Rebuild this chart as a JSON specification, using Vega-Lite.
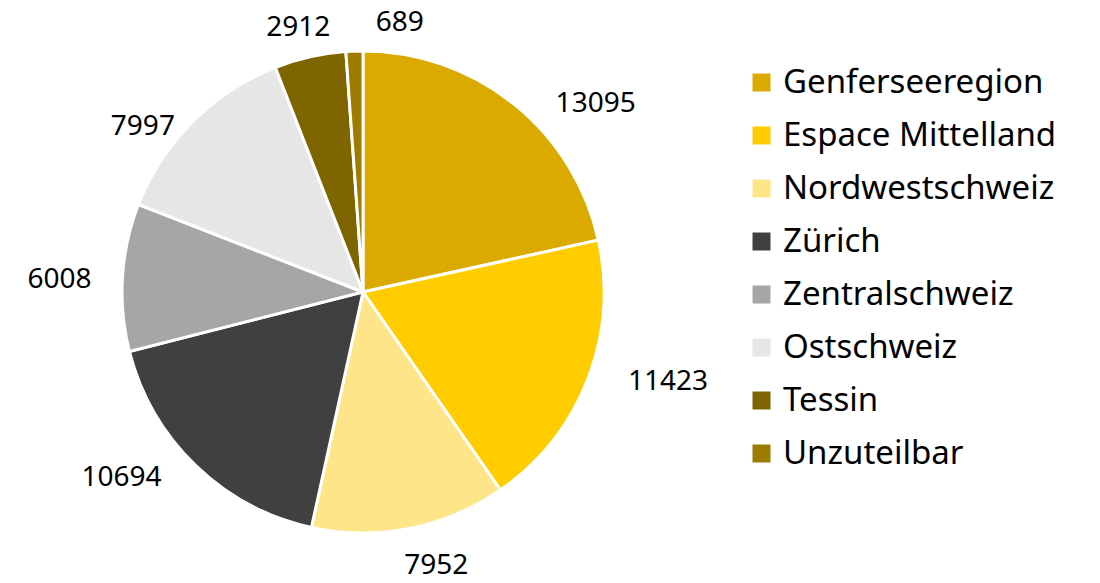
{
  "$schema": "https://vega.github.io/schema/vega-lite/v6.json",
  "width": 726,
  "height": 584,
  "padding": {"left": 0, "top": 0, "right": 374, "bottom": 0},
  "autosize": {"type": "none"},
  "background": "white",
  "config": {"view": {"stroke": null}, "font": "Noto Sans"},
  "data": {"values": [
    {"region": "Genferseeregion", "value": 13095, "idx": 1},
    {"region": "Espace Mittelland", "value": 11423, "idx": 2},
    {"region": "Nordwestschweiz", "value": 7952, "idx": 3},
    {"region": "Zürich", "value": 10694, "idx": 4},
    {"region": "Zentralschweiz", "value": 6008, "idx": 5},
    {"region": "Ostschweiz", "value": 7997, "idx": 6},
    {"region": "Tessin", "value": 2912, "idx": 7},
    {"region": "Unzuteilbar", "value": 689, "idx": 8}
  ]},
  "encoding": {
    "theta": {"field": "value", "type": "quantitative", "stack": true},
    "order": {"field": "idx", "type": "quantitative"}
  },
  "layer": [
    {
      "mark": {"type": "arc", "outerRadius": 241, "stroke": "white", "strokeWidth": 3},
      "encoding": {
        "color": {
          "field": "region", "type": "nominal",
          "sort": ["Genferseeregion", "Espace Mittelland", "Nordwestschweiz", "Zürich", "Zentralschweiz", "Ostschweiz", "Tessin", "Unzuteilbar"],
          "scale": {
            "domain": ["Genferseeregion", "Espace Mittelland", "Nordwestschweiz", "Zürich", "Zentralschweiz", "Ostschweiz", "Tessin", "Unzuteilbar"],
            "range": ["#DAAA00", "#FFCC00", "#FFE58A", "#404040", "#A6A6A6", "#E6E6E6", "#7F6500", "#9C7B00"]
          },
          "legend": {
            "title": null,
            "orient": "none",
            "legendX": 745,
            "legendY": 66,
            "padding": 0,
            "symbolType": "square",
            "symbolSize": 324,
            "symbolStrokeWidth": 0,
            "labelFont": "Noto Sans",
            "labelFontSize": 33,
            "labelColor": "black",
            "labelOffset": 5,
            "rowPadding": 19,
            "labelLimit": 400
          }
        }
      }
    },
    {
      "mark": {"type": "text", "radius": 290, "fontSize": 28, "font": "Noto Sans", "color": "black", "align": "center", "baseline": "middle", "dx": 51, "dy": 38},
      "encoding": {"text": {"condition": {"test": "datum.region === 'Genferseeregion'", "field": "value", "type": "quantitative", "format": "d"}, "value": ""}}
    },
    {
      "mark": {"type": "text", "radius": 290, "fontSize": 28, "font": "Noto Sans", "color": "black", "align": "center", "baseline": "middle", "dx": 35, "dy": -16},
      "encoding": {"text": {"condition": {"test": "datum.region === 'Espace Mittelland'", "field": "value", "type": "quantitative", "format": "d"}, "value": ""}}
    },
    {
      "mark": {"type": "text", "radius": 290, "fontSize": 28, "font": "Noto Sans", "color": "black", "align": "center", "baseline": "middle", "dx": 17, "dy": -10},
      "encoding": {"text": {"condition": {"test": "datum.region === 'Nordwestschweiz'", "field": "value", "type": "quantitative", "format": "d"}, "value": ""}}
    },
    {
      "mark": {"type": "text", "radius": 290, "fontSize": 28, "font": "Noto Sans", "color": "black", "align": "center", "baseline": "middle", "dx": -40, "dy": -23},
      "encoding": {"text": {"condition": {"test": "datum.region === 'Zürich'", "field": "value", "type": "quantitative", "format": "d"}, "value": ""}}
    },
    {
      "mark": {"type": "text", "radius": 290, "fontSize": 28, "font": "Noto Sans", "color": "black", "align": "center", "baseline": "middle", "dx": -14, "dy": 6},
      "encoding": {"text": {"condition": {"test": "datum.region === 'Zentralschweiz'", "field": "value", "type": "quantitative", "format": "d"}, "value": ""}}
    },
    {
      "mark": {"type": "text", "radius": 290, "fontSize": 28, "font": "Noto Sans", "color": "black", "align": "center", "baseline": "middle", "dx": -15, "dy": 40},
      "encoding": {"text": {"condition": {"test": "datum.region === 'Ostschweiz'", "field": "value", "type": "quantitative", "format": "d"}, "value": ""}}
    },
    {
      "mark": {"type": "text", "radius": 290, "fontSize": 28, "font": "Noto Sans", "color": "black", "align": "center", "baseline": "middle", "dx": -1, "dy": 19},
      "encoding": {"text": {"condition": {"test": "datum.region === 'Tessin'", "field": "value", "type": "quantitative", "format": "d"}, "value": ""}}
    },
    {
      "mark": {"type": "text", "radius": 290, "fontSize": 28, "font": "Noto Sans", "color": "black", "align": "center", "baseline": "middle", "dx": 47, "dy": 21},
      "encoding": {"text": {"condition": {"test": "datum.region === 'Unzuteilbar'", "field": "value", "type": "quantitative", "format": "d"}, "value": ""}}
    }
  ]
}
